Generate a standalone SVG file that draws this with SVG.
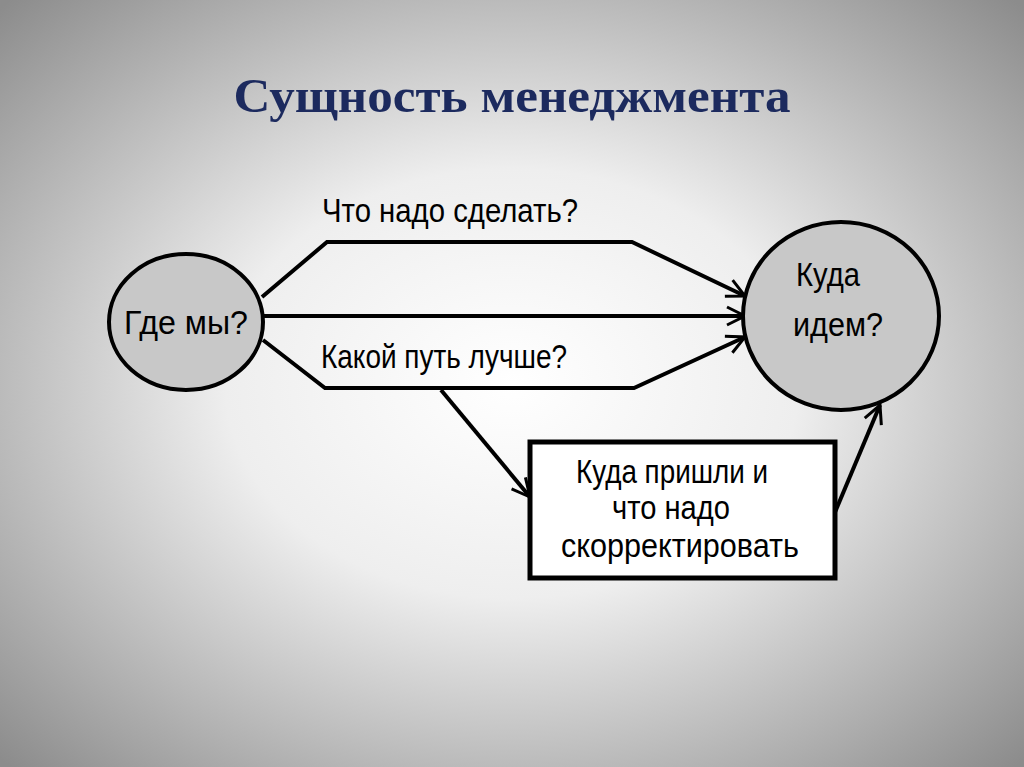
<svg xmlns="http://www.w3.org/2000/svg" width="1024" height="767" viewBox="0 0 1024 767">
<style>
.t{font-family:"Liberation Sans",Arial,sans-serif;font-size:34px;fill:#000}
.c{stroke:#000;stroke-width:4;fill:none}
</style>
<defs>
<radialGradient id="bg" cx="0.5" cy="0.5" r="0.7">
<stop offset="0" stop-color="#ffffff"/><stop offset="0.4" stop-color="#eeeeee"/><stop offset="1" stop-color="#8c8c8c"/>
</radialGradient>
<marker id="a" markerWidth="24" markerHeight="24" refX="20" refY="12" orient="auto" markerUnits="userSpaceOnUse">
<polyline points="2,3 20,12 2,21" fill="none" stroke="#000" stroke-width="3"/>
</marker>
</defs>
<rect width="1024" height="767" fill="url(#bg)"/>
<text x="512" y="112" text-anchor="middle" font-family="Liberation Serif,serif" font-weight="bold" font-size="48" fill="#1c2a5e" textLength="557" lengthAdjust="spacingAndGlyphs">Сущность менеджмента</text>
<g id="connectors" class="c">
<polyline points="262,297 327,242 632,242 745,296" marker-end="url(#a)"/>
<line x1="263" y1="316" x2="745" y2="316" marker-end="url(#a)"/>
<polyline points="263,340 325,388 634,388 745,337" marker-end="url(#a)"/>
<line x1="441" y1="390" x2="530" y2="497" marker-end="url(#a)"/>
<line x1="833" y1="517" x2="880" y2="405" marker-end="url(#a)"/>
</g>
<g id="n1"><ellipse cx="186" cy="322" rx="77" ry="68" fill="#c8c8c8" stroke="#000" stroke-width="4"/>
<text class="t" x="186" y="334" text-anchor="middle" textLength="124" lengthAdjust="spacingAndGlyphs">Где мы?</text></g>
<g id="n2"><ellipse cx="841" cy="316" rx="98" ry="94" fill="#c8c8c8" stroke="#000" stroke-width="4"/>
<text class="t" x="828" y="286" text-anchor="middle" textLength="64" lengthAdjust="spacingAndGlyphs">Куда</text>
<text class="t" x="838" y="336" text-anchor="middle" textLength="90" lengthAdjust="spacingAndGlyphs">идем?</text></g>
<g id="n3"><rect x="530" y="442" width="305" height="136" fill="#fff" stroke="#000" stroke-width="5"/>
<text class="t" x="672" y="483" text-anchor="middle" textLength="192" lengthAdjust="spacingAndGlyphs">Куда пришли и</text>
<text class="t" x="671" y="519" text-anchor="middle" textLength="118" lengthAdjust="spacingAndGlyphs">что надо</text>
<text class="t" x="680" y="557" text-anchor="middle" textLength="238" lengthAdjust="spacingAndGlyphs">скорректировать</text></g>
<g id="labels">
<text class="t" x="450" y="222" text-anchor="middle" textLength="256" lengthAdjust="spacingAndGlyphs">Что надо сделать?</text>
<text class="t" x="444" y="368" text-anchor="middle" textLength="246" lengthAdjust="spacingAndGlyphs">Какой путь лучше?</text>
</g>
</svg>
